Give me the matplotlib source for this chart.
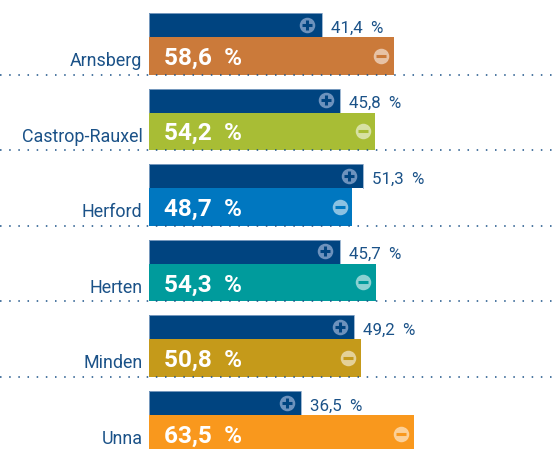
import matplotlib
matplotlib.use('Agg')
import matplotlib.pyplot as plt

cities = ['Arnsberg', 'Castrop-Rauxel', 'Herford', 'Herten', 'Minden', 'Unna']
yes_values = [41.4, 45.8, 51.3, 45.7, 49.2, 36.5]
no_values = [58.6, 54.2, 48.7, 54.3, 50.8, 63.5]
no_colors = ['#CB7A3A', '#A8BD35', '#0077C0', '#009B9C', '#C59A1A', '#F9981D']

NAVY = '#004480'
TEXT = '#1B5288'
W, H = 558, 449
X0 = 149        # pixel of the zero line
PX_PER_PCT = 4.173
ROW = 75.6
TOP = 13
YES_H = 24
NO_H = 37.5

plt.rcParams['font.family'] = ['Roboto', 'DejaVu Sans']

fig = plt.figure(figsize=(W / 100, H / 100), dpi=100)
ax = fig.add_axes([0, 0, 1, 1])
ax.set_xlim(-X0 / PX_PER_PCT, (W - X0) / PX_PER_PCT)
ax.set_ylim(H, 0)  # y axis runs in pixels, x axis in percent
ax.axis('off')


def icon(x, y, sign, sign_color, disc_color):
    # pale disc with a plus or minus on top
    ax.scatter([x], [y], s=125, color=disc_color, alpha=0.55, linewidths=0, zorder=4)
    ax.scatter([x], [y], s=52, marker=sign, color=sign_color, linewidths=2.2, zorder=5)


for i, city in enumerate(cities):
    top = TOP + i * ROW
    mid = top + YES_H
    bottom = mid + NO_H
    yes = yes_values[i]
    no = no_values[i]

    ax.barh(top, yes, height=YES_H, align='edge', color=NAVY, linewidth=0, zorder=2)
    # thin light rim on the navy bar
    ax.plot([0, 0, yes, yes], [mid, top, top, mid], color='#8CA9C9', linewidth=0.6, zorder=2.5)
    ax.barh(mid, no, height=NO_H, align='edge', color=no_colors[i], linewidth=0, zorder=3)

    # dotted separator, last row has none
    if i < len(cities) - 1:
        ax.plot([-X0 / PX_PER_PCT, (W - X0) / PX_PER_PCT], [bottom, bottom], color=TEXT,
                linewidth=1.1, linestyle=(0, (1, 5)), zorder=4)

    ax.text(-6.5 / PX_PER_PCT, bottom - 13.5, city, ha='right', va='center',
            fontsize=12.9, color=TEXT, zorder=5)
    ax.text(yes + 9 / PX_PER_PCT, top + 15, f'{yes:.1f}  %'.replace('.', ','), ha='left', va='center',
            fontsize=12.2, color=TEXT, zorder=5)
    ax.text(15 / PX_PER_PCT, mid + 21, f'{no:.1f}  %'.replace('.', ','), ha='left', va='center',
            fontsize=17.6, fontweight='bold', color='white', zorder=5)

    icon(yes - 14.5 / PX_PER_PCT, top + 11.5, '+', NAVY, '#C8D4F0')
    icon(no - 12.5 / PX_PER_PCT, mid + 18.5, '_', no_colors[i], 'white')

fig.savefig('out.png', dpi=100)
